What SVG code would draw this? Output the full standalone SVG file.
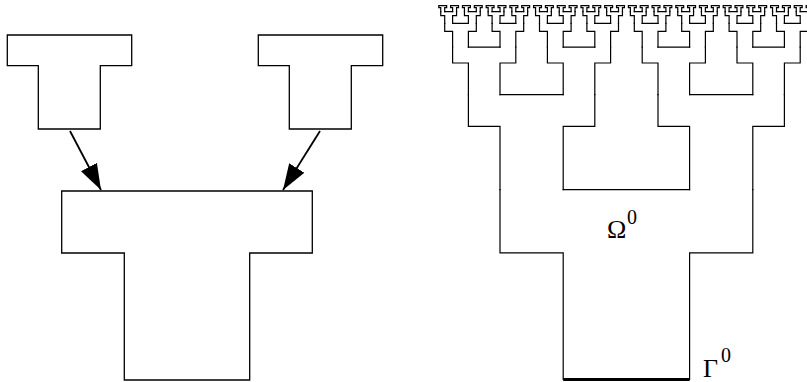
<svg xmlns="http://www.w3.org/2000/svg" xmlns:xlink="http://www.w3.org/1999/xlink" width="807" height="382" viewBox="0 0 807 382">
<style>
.shape{fill:#fff;stroke:#000;stroke-width:1.3}
.conn{fill:none;stroke:#000;stroke-width:1.8}
.lbl{font-family:"Liberation Serif","Times New Roman",serif;fill:#000}
</style>
<defs>
<marker id="ah" viewBox="0 0 26 18" refX="26" refY="9" markerWidth="26" markerHeight="18" markerUnits="userSpaceOnUse" orient="auto">
<path d="M0,0L26,9L0,18Z" fill="#000"/>
</marker>
<path id="pn" d="M-63.2,0V-126.6H-126.4V-189.9M-63.2,-189.9H63.2M126.4,-189.9V-126.6H63.2V0" fill="none" stroke="#000" stroke-width="1.2" stroke-linecap="square" vector-effect="non-scaling-stroke"/>
<path id="pl" d="M-63.2,0V-126.6H-126.4V-189.9H126.4V-126.6H63.2V0" fill="none" stroke="#000" stroke-width="1.2" stroke-linecap="square" vector-effect="non-scaling-stroke"/>
<g id="f5"><use href="#pl"/></g>
<g id="f4"><use href="#pn"/><use href="#f5" transform="translate(-94.8,-189.9) scale(0.5)"/><use href="#f5" transform="translate(94.8,-189.9) scale(0.5)"/></g>
<g id="f3"><use href="#pn"/><use href="#f4" transform="translate(-94.8,-189.9) scale(0.5)"/><use href="#f4" transform="translate(94.8,-189.9) scale(0.5)"/></g>
<g id="f2"><use href="#pn"/><use href="#f3" transform="translate(-94.8,-189.9) scale(0.5)"/><use href="#f3" transform="translate(94.8,-189.9) scale(0.5)"/></g>
<g id="f1"><use href="#pn"/><use href="#f2" transform="translate(-94.8,-189.9) scale(0.5)"/><use href="#f2" transform="translate(94.8,-189.9) scale(0.5)"/></g>
<g id="f0"><use href="#pn"/><use href="#f1" transform="translate(-94.8,-189.9) scale(0.5)"/><use href="#f1" transform="translate(94.8,-189.9) scale(0.5)"/></g>
</defs>
<rect width="807" height="382" fill="#fff"/>
<g id="connectors">
<path class="conn" d="M70,131L101,190" marker-end="url(#ah)"/>
<path class="conn" d="M320,131L283,190" marker-end="url(#ah)"/>
</g>
<g id="t-left-small"><path class="shape" d="M7.3,35H131.7V65.7H100.3V129H38.3V65.7H7.3Z"/></g>
<g id="t-right-small"><path class="shape" d="M258.3,35H382.7V65.7H351.3V129H289.3V65.7H258.3Z"/></g>
<g id="t-big"><path class="shape" d="M61.7,191H312.3V253H249.7V380H124.3V253H61.7Z"/></g>
<g id="fractal-domain">
<g transform="translate(626.4,379.5)"><use href="#f0"/></g>
<line x1="563.2" y1="379.5" x2="689.6" y2="379.5" stroke="#000" stroke-width="3"/>
<text class="lbl" x="607" y="238" font-size="26">Ω</text>
<text class="lbl" x="627" y="224" font-size="20">0</text>
<text class="lbl" x="703" y="377" font-size="26">Γ</text>
<text class="lbl" x="721" y="362" font-size="20">0</text>
</g>
</svg>
